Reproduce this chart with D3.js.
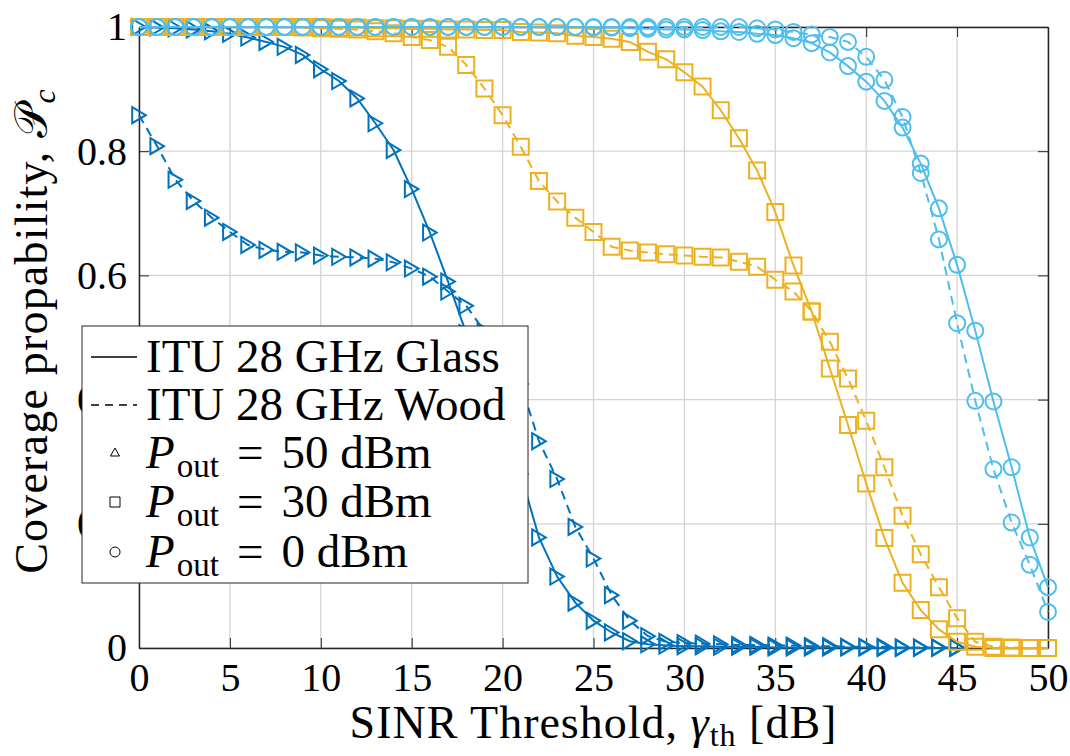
<!DOCTYPE html>
<html>
<head>
<meta charset="utf-8">
<script src="https://cdn.jsdelivr.net/npm/d3@7/dist/d3.min.js"></script>
<style>
  body{margin:0;background:#fff;}
  svg text{font-family:"Liberation Serif","Times New Roman",serif;fill:#000;}
</style>
</head>
<body>
<div id="chart"></div>
<script>
// SINR threshold values (dB)
var sinrX = [0,1,2,3,4,5,6,7,8,9,10,11,12,13,14,15,16,17,18,19,20,21,22,23,24,25,
             26,27,28,29,30,31,32,33,34,35,36,37,38,39,40,41,42,43,44,45,46,47,48,49,50];

// P_out = 50 dBm (x = 0..45)
var glass50 = [1.000,0.999,0.998,0.996,0.993,0.989,0.983,0.976,0.968,0.955,
               0.932,0.913,0.885,0.845,0.802,0.739,0.669,0.590,0.507,0.435,
               0.360,0.280,0.178,0.115,0.073,0.044,0.025,0.011,0.006,0.004,
               0.003,0.003,0.002,0.002,0.002,0.001,0.001,0.001,0.001,0.001,
               0.001,0.000,0.000,0.000,0.000,0.000];
var wood50  = [0.858,0.808,0.754,0.720,0.693,0.670,0.649,0.641,0.638,0.637,
               0.632,0.630,0.629,0.627,0.621,0.611,0.598,0.574,0.551,0.510,
               0.470,0.425,0.333,0.272,0.195,0.144,0.085,0.044,0.019,0.010,
               0.008,0.007,0.006,0.005,0.005,0.004,0.004,0.003,0.003,0.002,
               0.002,0.002,0.001,0.001,0.001,0.001];
// P_out = 30 dBm (x = 0..50)
var glass30 = [1.000,1.000,1.000,1.000,1.000,1.000,1.000,1.000,1.000,1.000,
               1.000,0.999,0.999,0.998,0.998,0.997,0.997,0.996,0.996,0.995,
               0.995,0.992,0.991,0.990,0.986,0.984,0.981,0.976,0.960,0.948,
               0.927,0.904,0.866,0.821,0.769,0.702,0.616,0.542,0.450,0.359,
               0.265,0.177,0.105,0.061,0.030,0.010,0.002,0.000,0.000,0.000,0.000];
var wood30  = [1.000,1.000,1.000,1.000,1.000,1.000,1.000,1.000,1.000,0.999,
               0.998,0.997,0.996,0.993,0.990,0.984,0.979,0.968,0.939,0.901,
               0.858,0.807,0.752,0.719,0.693,0.670,0.646,0.640,0.637,0.634,
               0.632,0.630,0.629,0.622,0.614,0.593,0.574,0.542,0.493,0.434,
               0.366,0.291,0.213,0.151,0.098,0.048,0.010,0.002,0.001,0.000,0.000];
// P_out = 0 dBm (x = 0..50)
var glass0  = [1.000,1.000,1.000,1.000,1.000,1.000,1.000,1.000,1.000,1.000,
               1.000,1.000,1.000,1.000,1.000,1.000,1.000,1.000,1.000,1.000,
               1.000,1.000,1.000,1.000,1.000,0.999,0.999,0.998,0.997,0.996,
               0.996,0.995,0.993,0.992,0.989,0.987,0.982,0.974,0.959,0.937,
               0.912,0.881,0.838,0.780,0.708,0.617,0.511,0.397,0.291,0.178,0.098];
var wood0   = [1.000,1.000,1.000,1.000,1.000,1.000,1.000,1.000,1.000,1.000,
               1.000,1.000,1.000,1.000,1.000,1.000,1.000,1.000,1.000,1.000,
               1.000,1.000,1.000,1.000,1.000,1.000,1.000,1.000,1.000,1.000,
               1.000,1.000,1.000,1.000,0.998,0.996,0.992,0.988,0.984,0.976,
               0.952,0.915,0.855,0.765,0.658,0.523,0.398,0.288,0.202,0.134,0.058];

var xTicks = [0,5,10,15,20,25,30,35,40,45,50];
var yTicks = [0,0.2,0.4,0.6,0.8,1];
var yTickLabels = ["0","0.2","0.4","0.6","0.8","1"];

var width = 1070, height = 756;
var margin = {top: 27, right: 22, bottom: 108, left: 139};
var contentWidth = width - margin.left - margin.right,
    contentHeight = height - margin.top - margin.bottom;

var colBlue = "#0072BD", colOrange = "#EDB120", colCyan = "#4DBEEE";

var series = [
  {y: glass50, color: colBlue,   dash: null,  marker: "tri"},
  {y: wood50,  color: colBlue,   dash: "9,6", marker: "tri"},
  {y: glass30, color: colOrange, dash: null,  marker: "sq"},
  {y: wood30,  color: colOrange, dash: "9,6", marker: "sq"},
  {y: glass0,  color: colCyan,   dash: null,  marker: "circ"},
  {y: wood0,   color: colCyan,   dash: "9,6", marker: "circ"}
];

var svg = d3.select("#chart").append("svg")
    .attr("width", width)
    .attr("height", height);

var xScale = d3.scaleLinear().domain([0, 50]).range([0, contentWidth]);
var yScale = d3.scaleLinear().domain([0, 1]).range([contentHeight, 0]);

var g = svg.append("g")
    .attr("transform", "translate(" + margin.left + "," + margin.top + ")");

// grid
g.append("g").selectAll("line").data(xTicks).enter().append("line")
    .attr("x1", function(d){ return xScale(d); })
    .attr("x2", function(d){ return xScale(d); })
    .attr("y1", 0).attr("y2", contentHeight)
    .attr("stroke", "#d4d4d4").attr("stroke-width", 1.3);
g.append("g").selectAll("line").data(yTicks).enter().append("line")
    .attr("y1", function(d){ return yScale(d); })
    .attr("y2", function(d){ return yScale(d); })
    .attr("x1", 0).attr("x2", contentWidth)
    .attr("stroke", "#d4d4d4").attr("stroke-width", 1.3);

// axes (ticks inside, box on)
var xAxis = d3.axisBottom(xScale).tickValues(xTicks).tickSizeInner(-10).tickSizeOuter(0).tickPadding(15);
var yAxis = d3.axisLeft(yScale).tickValues(yTicks).tickSizeInner(-10).tickSizeOuter(0).tickPadding(12)
    .tickFormat(function(d, i){ return yTickLabels[i]; });
var xTop = d3.axisTop(xScale).tickValues(xTicks).tickSizeInner(-10).tickSizeOuter(0).tickFormat("");
var yRight = d3.axisRight(yScale).tickValues(yTicks).tickSizeInner(-10).tickSizeOuter(0).tickFormat("");

function styleAxis(sel){
  sel.select(".domain").attr("stroke", "#262626").attr("stroke-width", 1.5);
  sel.selectAll(".tick line").attr("stroke", "#262626").attr("stroke-width", 1);
  sel.selectAll(".tick text").attr("font-size", 40).attr("font-family", "Liberation Serif");
}
g.append("g").attr("transform", "translate(0," + contentHeight + ")").call(xAxis).call(styleAxis);
g.append("g").call(yAxis).call(styleAxis);
g.append("g").call(xTop).call(styleAxis);
g.append("g").attr("transform", "translate(" + contentWidth + ",0)").call(yRight).call(styleAxis);

// marker paths
function markerPath(type, s){
  var h = s / 2;
  if (type === "tri") return "M" + (-h * 0.85) + "," + (-h) + "L" + (h * 0.85) + ",0L" + (-h * 0.85) + "," + h + "Z";
  if (type === "triUp") return "M0," + (-h) + "L" + (h * 0.9) + "," + (h * 0.6) + "L" + (-h * 0.9) + "," + (h * 0.6) + "Z";
  if (type === "sq") return "M" + (-h) + "," + (-h) + "H" + h + "V" + h + "H" + (-h) + "Z";
  return d3.symbol().type(d3.symbolCircle).size(Math.PI * h * h)();
}

var line = d3.line()
    .x(function(d){ return xScale(d[0]); })
    .y(function(d){ return yScale(d[1]); });

series.forEach(function(s){
  var pts = s.y.map(function(v, i){ return [sinrX[i], v]; });
  var sg = g.append("g");
  sg.append("path")
    .datum(pts)
    .attr("d", line)
    .attr("fill", "none")
    .attr("stroke", s.color)
    .attr("stroke-width", 2)
    .attr("stroke-dasharray", s.dash);
  sg.selectAll(".m").data(pts).enter().append("path")
    .attr("class", "m")
    .attr("transform", function(d){ return "translate(" + xScale(d[0]) + "," + yScale(d[1]) + ")"; })
    .attr("d", markerPath(s.marker, 16))
    .attr("fill", "none")
    .attr("stroke", s.color)
    .attr("stroke-width", 2);
});

// legend
var lg = svg.append("g").attr("transform", "translate(82,326)");
lg.append("rect")
    .attr("width", 446).attr("height", 257)
    .attr("fill", "#fff").attr("stroke", "#262626").attr("stroke-width", 1);

var legendRows = [
  {kind: "line", dash: null, label: "ITU 28 GHz Glass"},
  {kind: "line", dash: "8,6", label: "ITU 28 GHz Wood"},
  {kind: "triUp", dbm: "50"},
  {kind: "sq", dbm: "30"},
  {kind: "circ", dbm: "0"}
];
var rowY = [31, 79, 127, 176, 226];

legendRows.forEach(function(r, i){
  var cy = rowY[i];
  if (r.kind === "line") {
    lg.append("line").attr("x1", 9).attr("x2", 55).attr("y1", cy).attr("y2", cy)
      .attr("stroke", "#000").attr("stroke-width", 1.5).attr("stroke-dasharray", r.dash);
    lg.append("text").attr("x", 64).attr("y", cy + 15).attr("font-size", 47).text(r.label);
  } else {
    lg.append("path").attr("transform", "translate(33," + cy + ")")
      .attr("d", markerPath(r.kind, 10))
      .attr("fill", "none").attr("stroke", "#000").attr("stroke-width", 1);
    var t = lg.append("text").attr("x", 64).attr("y", cy + 15).attr("font-size", 47);
    t.append("tspan").attr("font-style", "italic").text("P");
    t.append("tspan").attr("font-size", 33).attr("dx", 2).attr("dy", 9).text("out");
    t.append("tspan").attr("dx", 18).attr("dy", -9).text("=");
    t.append("tspan").attr("dx", 18).text(r.dbm + " dBm");
  }
});

// axis labels
var xl = svg.append("text")
    .attr("x", margin.left + contentWidth / 2)
    .attr("y", 738)
    .attr("text-anchor", "middle")
    .attr("font-size", 46)
    .attr("letter-spacing", 1);
xl.append("tspan").text("SINR Threshold, ");
xl.append("tspan").attr("font-style", "italic").text("γ");
xl.append("tspan").attr("font-size", 32).attr("dy", 8).text("th");
xl.append("tspan").attr("dy", -8).text(" [dB]");

var yl = svg.append("text")
    .attr("transform", "translate(47,331) rotate(-90)")
    .attr("text-anchor", "middle")
    .attr("font-size", 46)
    .attr("letter-spacing", 1.2);
yl.append("tspan").text("Coverage propability, ");
yl.append("tspan").attr("font-family", "DejaVu Serif, DejaVu Sans, serif").text("𝒫");
yl.append("tspan").attr("font-size", 32).attr("font-style", "italic").attr("dy", 8).text("c");
</script>
</body>
</html>
